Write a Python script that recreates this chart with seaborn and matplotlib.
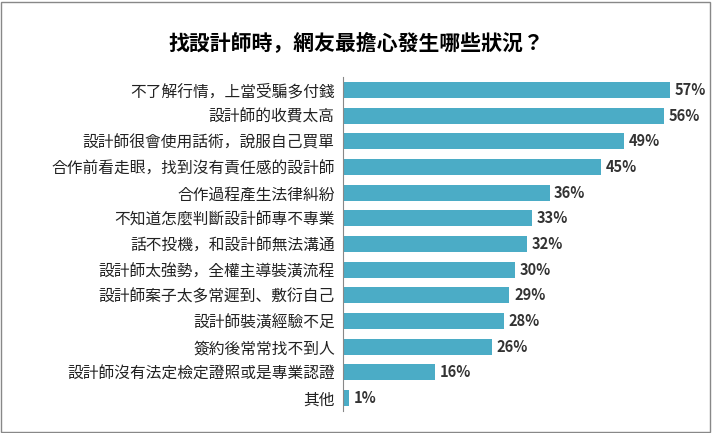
import matplotlib
matplotlib.use("Agg")
import matplotlib.pyplot as plt
import seaborn as sns
import pandas as pd
from matplotlib.patches import Rectangle

plt.rcParams["font.family"] = ["Noto Sans CJK TC", "Noto Sans CJK JP", "DejaVu Sans"]

categories = [
    "不了解行情，上當受騙多付錢",
    "設計師的收費太高",
    "設計師很會使用話術，說服自己買單",
    "合作前看走眼，找到沒有責任感的設計師",
    "合作過程產生法律糾紛",
    "不知道怎麼判斷設計師專不專業",
    "話不投機，和設計師無法溝通",
    "設計師太強勢，全權主導裝潢流程",
    "設計師案子太多常遲到、敷衍自己",
    "設計師裝潢經驗不足",
    "簽約後常常找不到人",
    "設計師沒有法定檢定證照或是專業認證",
    "其他",
]
values = [57, 56, 49, 45, 36, 33, 32, 30, 29, 28, 26, 16, 1]

df = pd.DataFrame({"item": categories, "pct": values})

fig = plt.figure(figsize=(7.12, 4.33), dpi=100)
ax = fig.add_axes([0.482, 0.051, 0.483, 0.771])

sns.barplot(data=df, x="pct", y="item", color="#4BACC6", saturation=1,
            width=0.62, ax=ax)

for i, v in enumerate(values):
    ax.text(v + 0.8, i, f"{v}%", va="center", ha="left", fontsize=10.5,
            fontweight="bold", color="#333333")

ax.set_xlim(0, 60)
ax.set_xlabel("")
ax.set_ylabel("")
ax.set_xticks([])
ax.tick_params(axis="y", length=0, labelsize=11.3, pad=6, colors="#222222")
for s in ["top", "right", "bottom"]:
    ax.spines[s].set_visible(False)
ax.spines["left"].set_color("#888888")

fig.text(0.5, 0.9, "找設計師時，網友最擔心發生哪些狀況？", ha="center",
         va="center", fontsize=15, fontweight="bold")
fig.patches.append(Rectangle((0.002, 0.003), 0.995, 0.993, transform=fig.transFigure,
                             fill=False, edgecolor="#888888", lw=1))

fig.savefig("out.png", dpi=100)
